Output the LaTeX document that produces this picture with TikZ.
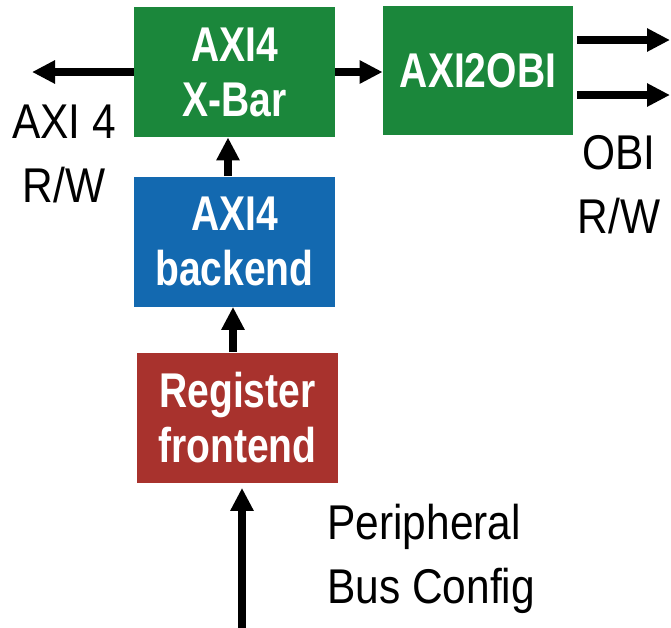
\documentclass[tikz,border=0pt]{standalone}
\usepackage{fontspec}
\setmainfont{Liberation Sans}[FakeStretch=0.87]
\newfontfamily\blockfont{Liberation Sans}[FakeStretch=0.80]
\usetikzlibrary{arrows.meta,positioning}
\definecolor{xbargreen}{RGB}{27,135,59}
\definecolor{backblue}{RGB}{19,105,176}
\definecolor{regred}{RGB}{168,50,45}
\tikzset{>={Triangle[length=11.5pt,width=11pt]},flow/.style={line width=4pt,->},
block/.style={rectangle,inner sep=0pt,minimum width=100.5pt,minimum height=65pt,text=white,align=center,font=\blockfont\bfseries\fontsize{24.4}{27.5}\selectfont},
note/.style={inner sep=0pt,font=\fontsize{24.4}{32}\selectfont}}

\begin{document}
\begin{tikzpicture}[x=0.5pt,y=-0.5pt]
\useasboundingbox (0,0) rectangle (671,628);
\node[block,fill=xbargreen] (xbar) at (234.5,72){AXI4\\X-Bar};
\node[block,fill=xbargreen,minimum width=95pt,minimum height=64.5pt] (axiobi) at (478,70.5){AXI2OBI};
\node[block,fill=backblue] (backend) at (234.5,241.5){AXI4\\backend};
\node[block,fill=regred] (regfront) at (237.5,417.5){Register\\frontend};
\coordinate (axiout) at (32,72);\coordinate (obiA) at (670,40);\coordinate (obiB) at (670,95);\coordinate (busin) at (242,628);
\draw[flow] (xbar.west)--(axiout);\draw[flow] (xbar.east)--(xbar.east -| axiobi.west);
\draw[flow,shorten <=2pt] (axiobi.east |- obiA)--(obiA);\draw[flow,shorten <=2pt] (axiobi.east |- obiB)--(obiB);
\draw[flow] ([xshift=-3.25pt]backend.north)--([xshift=-3.25pt]xbar.south);
\draw[flow] ([xshift=-2.25pt]regfront.north)--([xshift=-2.25pt]regfront.north |- backend.south);
\draw[flow,shorten >=2.5pt] (busin)--(busin |- regfront.south);
\node[note,align=center] (axilbl) at (64,153.5){AXI 4\\R/W};
\node[note,align=center] (obilbl) at (619,184.5){OBI\\R/W};
\node[note,align=left,anchor=west] (buslbl) at (327,559){Peripheral\\Bus Config};
\end{tikzpicture}
\end{document}
